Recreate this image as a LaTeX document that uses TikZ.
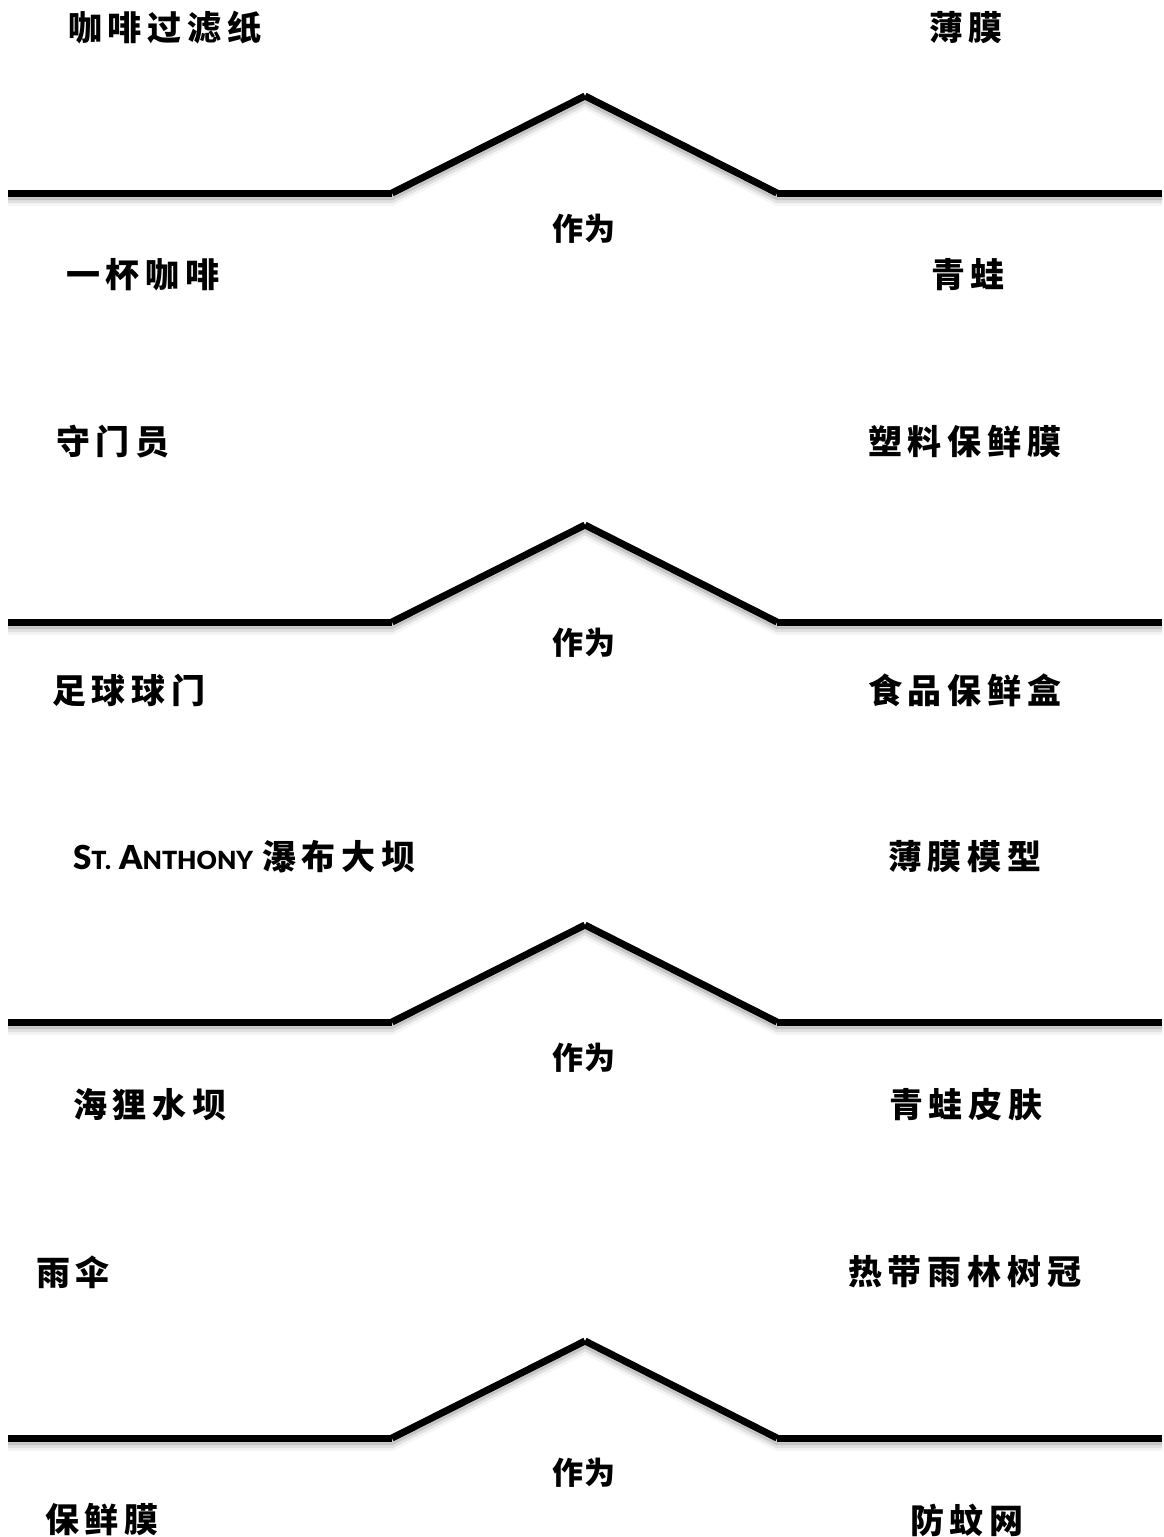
\documentclass[tikz,border=0pt]{standalone}
\usepackage{fontspec}
\newfontfamily\cjk{Noto Sans CJK SC}[LetterSpace=17]
\newfontfamily\latnB{Lato}[UprightFont={* Black}]
\begin{document}
\begin{tikzpicture}[x=1pt,y=-1pt,
  lbl/.style={inner sep=0pt,font=\cjk\bfseries\fontsize{34}{34}\selectfont},
  mid/.style={inner sep=0pt,font=\cjk\bfseries\fontsize{31}{31}\selectfont\addfontfeature{LetterSpace=6}},
  seg/.style={line width=7pt,black,line cap=butt}]
\useasboundingbox (0,0) rectangle (1163,1537);
\fill[white] (0,0) rectangle (1163,1537);
\newcommand{\roof}[2]{%
  \coordinate (#1a) at (8,#2);
  \coordinate (#1b) at (392,#2);
  \coordinate (#1c) at (585,#2-97);
  \coordinate (#1d) at (777,#2);
  \coordinate (#1e) at (1162,#2);
  \foreach \s/\o in {3/0.12,6/0.08,9/0.04}{
    \draw[line width=8pt,black,opacity=\o,transform canvas={yshift=-\s pt}] (#1a)--(#1b)--(#1c)--(#1d)--(#1e);}
  \draw[seg] (#1a)--(#1b);
  \draw[seg] (#1b)--(#1c);
  \draw[seg] (#1c)--(#1d);
  \draw[seg] (#1d)--(#1e);
}
\roof{r1}{193}
\roof{r2}{622}
\roof{r3}{1022}
\roof{r4}{1438}
\node[mid] (m1) at (584,229) {作为};
\node[mid] (m2) at (584,643) {作为};
\node[mid] (m3) at (584,1058) {作为};
\node[mid] (m4) at (584,1473) {作为};
\node[lbl,anchor=west] (t1) at (68,28) {咖啡过滤纸};
\node[lbl,anchor=west] (u1) at (929,28) {薄膜};
\node[lbl,anchor=west] (t2) at (66,275) {一杯咖啡};
\node[lbl,anchor=west] (u2) at (931,275) {青蛙};
\node[lbl,anchor=west] (t3) at (56,442) {守门员};
\node[lbl,anchor=west] (u3) at (868,442) {塑料保鲜膜};
\node[lbl,anchor=west] (t4) at (52,690) {足球球门};
\node[lbl,anchor=west] (u4) at (868,690) {食品保鲜盒};
\node[lbl,anchor=west] (t5) at (73,857) {\mbox{\fontsize{33}{33}\latnB\mdseries\upshape\selectfont S\fontsize{25}{25}\selectfont T.\hspace*{8pt}\fontsize{33}{33}\selectfont A\fontsize{25}{25}\selectfont NTHONY}\hspace*{9pt}瀑布大坝};
\node[lbl,anchor=west] (u5) at (888,857) {薄膜模型};
\node[lbl,anchor=west] (t6) at (73,1105) {海狸水坝};
\node[lbl,anchor=west] (u6) at (889,1105) {青蛙皮肤};
\node[lbl,anchor=west] (t7) at (36,1272) {雨伞};
\node[lbl,anchor=west] (u7) at (848,1272) {热带雨林树冠};
\node[lbl,anchor=west] (t8) at (45,1520) {保鲜膜};
\node[lbl,anchor=west] (u8) at (910,1520) {防蚊网};
\end{tikzpicture}
\end{document}
